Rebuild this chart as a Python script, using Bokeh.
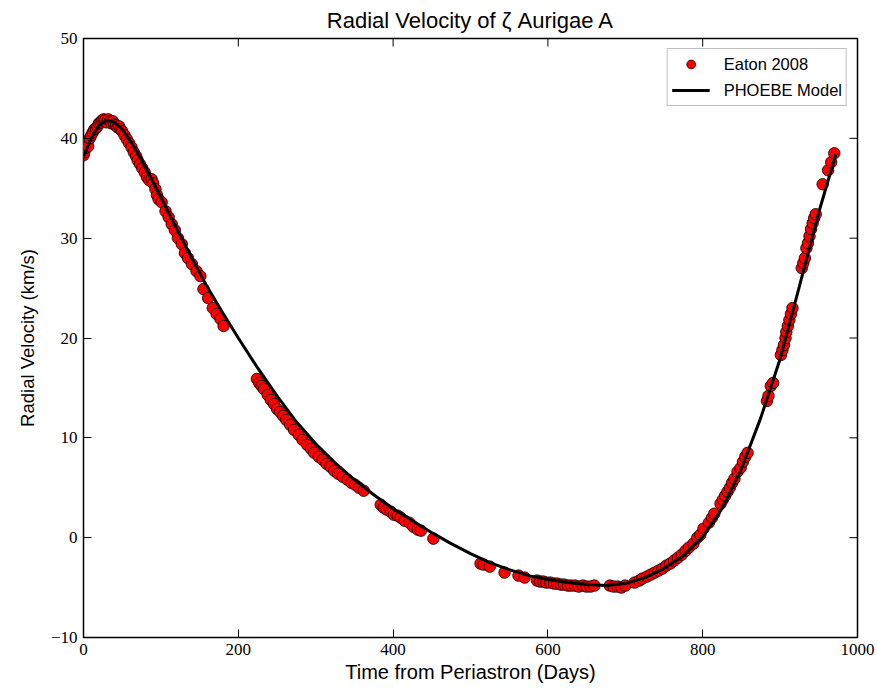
from bokeh.plotting import figure
from bokeh.models import (Range1d, Legend, LegendItem, FixedTicker,
                          CustomJSTickFormatter, ColumnDataSource)
from bokeh.embed import file_html
from bokeh.resources import INLINE

obs_day = [0, 1, 2, 3, 5, 6, 8, 10, 12, 14, 16, 18, 20, 22, 24, 26, 28, 30, 32, 34,
           36, 38, 40, 42, 44, 46, 48, 50, 53, 56, 59, 62, 65, 68, 70, 73, 76, 79, 82, 85,
           88, 90, 93, 95, 97, 101, 106, 110, 114, 118, 122, 127, 131, 135, 140, 146, 151,
           155, 161, 167, 172, 177, 181,
           224, 227, 230, 233, 238, 242, 246, 250, 254, 258, 262, 267, 272, 278, 283, 289,
           294, 298, 304, 309, 314, 319, 324, 329, 335, 341, 346, 351, 356, 362,
           384, 388, 392, 397, 401, 406, 410, 415, 421, 426, 432, 436, 452,
           513, 517, 525, 544, 562, 570,
           586, 590, 594, 598, 603, 608, 612, 617, 621, 626, 630, 635, 640, 645, 650, 655, 660,
           680, 685, 690, 695, 700, 712, 718, 722, 728, 733, 738, 743, 748, 753, 758, 763,
           768, 773, 778, 782, 788, 793, 797, 801,
           808, 812, 815, 823, 826, 829, 832, 835, 838, 841, 845, 849, 852, 855, 858,
           883, 885, 888, 891, 901, 903, 905, 907, 908, 910, 912, 914, 916,
           928, 930, 932, 934, 936, 938, 940, 942, 944, 946, 955, 962, 966, 970]
obs_rv = [38.3, 38.6, 39.0, 39.4, 39.7, 39.2, 40.0, 40.3, 40.6, 40.9, 41.0, 41.2, 41.5, 41.6,
          41.8, 41.9, 41.8, 41.6, 41.9, 41.7, 41.5, 41.7, 41.4, 41.3, 41.1, 41.2, 40.9, 40.7,
          40.3, 39.9, 39.5, 39.1, 38.6, 38.2, 37.8, 37.4, 37.0, 36.6, 36.1, 35.8, 35.9, 35.5,
          34.9, 34.3, 33.9, 33.6, 32.7, 32.1, 31.4, 30.8, 30.0, 29.4, 28.5, 28.0, 27.4, 26.7,
          26.2, 24.9, 24.0, 23.0, 22.4, 21.9, 21.2,
          15.9, 15.5, 15.2, 14.9, 14.3, 13.8, 13.4, 12.9, 12.6, 12.2, 11.8, 11.3, 10.8, 10.3,
          9.8, 9.3, 8.9, 8.5, 8.1, 7.8, 7.4, 7.1, 6.7, 6.4, 6.1, 5.8, 5.5, 5.3, 5.0, 4.7,
          3.3, 3.0, 2.8, 2.6, 2.3, 2.2, 2.0, 1.7, 1.5, 1.1, 0.8, 0.7, -0.1,
          -2.6, -2.7, -2.9, -3.5, -3.8, -4.0,
          -4.3, -4.4, -4.4, -4.5, -4.5, -4.6, -4.6, -4.7, -4.7, -4.8, -4.8, -4.8, -4.9, -4.8,
          -4.9, -4.9, -4.8,
          -4.8, -4.9, -4.9, -5.0, -4.8, -4.5, -4.3, -4.1, -3.9, -3.7, -3.5, -3.3, -3.1, -2.8,
          -2.6, -2.3, -2.0, -1.7, -1.3, -1.0, -0.6, 0.0, 0.3, 0.9,
          1.5, 2.0, 2.4, 3.4, 3.8, 4.2, 4.6, 5.0, 5.5, 5.9, 6.6, 7.0, 7.6, 8.1, 8.5,
          13.7, 14.2, 15.2, 15.5, 18.3, 18.8, 19.3, 20.0, 20.6, 21.2, 21.8, 22.4, 23.0,
          27.0, 27.5, 28.0, 29.0, 29.5, 30.2, 30.9, 31.5, 32.0, 32.4, 35.4, 36.8, 37.6, 38.5]

# ---- PHOEBE model curve ----
model_day = [0, 10, 20, 30, 40, 50, 60, 70, 80, 90, 100, 120, 140, 160, 180, 200, 225,
             250, 275, 300, 325, 350, 375, 400, 425, 450, 475, 500, 525, 550, 575, 600,
             625, 650, 675, 700, 725, 750, 775, 800, 825, 850, 875, 900, 925, 950, 972]
model_rv = [38.2, 40.0, 41.3, 41.8, 41.6, 40.9, 39.8, 38.5, 37.1, 35.6, 34.1, 31.0, 28.0,
            25.1, 22.5, 20.0, 17.0, 14.2, 11.6, 9.4, 7.5, 5.8, 4.3, 2.9, 1.7, 0.5, -0.6,
            -1.6, -2.5, -3.2, -3.8, -4.2, -4.5, -4.7, -4.8, -4.6, -4.0, -3.1, -1.8, 0.1,
            2.9, 6.9, 12.0, 17.9, 25.2, 32.6, 38.4]

title_text = "Radial Velocity of \u03b6 Aurigae A"
x_label = "Time from Periastron (Days)"
y_label = "Radial Velocity (km/s)"
x_ticks = [0, 200, 400, 600, 800, 1000]
y_ticks = [-10, 0, 10, 20, 30, 40, 50]
x_lim = (0, 1000)
y_lim = (-10, 50)

SANS = "Liberation Sans"
SERIF = "Liberation Serif"
FW, FH = 774, 599
TICK = 8

p = figure(frame_width=FW, frame_height=FH,
           x_range=Range1d(*x_lim), y_range=Range1d(*y_lim),
           output_backend="svg", toolbar_location=None,
           min_border_left=83, min_border_right=20, min_border_top=37, min_border_bottom=54,
           background_fill_color="white", border_fill_color="white")

p.title.text = title_text
p.title.align = "center"
p.title.text_font = SANS
p.title.text_font_size = "22px"
p.title.text_font_style = "normal"
p.title.text_color = "black"
p.title.standoff = 11

p.xgrid.visible = False
p.ygrid.visible = False
p.outline_line_color = "black"
p.outline_line_width = 1.5

fmt = CustomJSTickFormatter(code="return tick < 0 ? '\\u2212' + Math.abs(tick) : String(tick);")

for ax, ticks in ((p.xaxis[0], x_ticks), (p.yaxis[0], y_ticks)):
    ax.ticker = FixedTicker(ticks=ticks)
    ax.major_tick_in = TICK
    ax.major_tick_out = 0
    ax.minor_tick_line_color = None
    ax.axis_line_color = None
    ax.major_tick_line_color = "black"
    ax.formatter = fmt
    ax.major_label_text_font = SERIF
    ax.major_label_text_font_size = "17px"
    ax.major_label_text_color = "black"
    ax.major_label_standoff = 6
    ax.axis_label_text_font = SANS
    ax.axis_label_text_font_style = "normal"
    ax.axis_label_text_color = "black"

p.xaxis[0].axis_label = x_label
p.yaxis[0].axis_label = y_label
p.xaxis[0].axis_label_text_font_size = "20px"
p.yaxis[0].axis_label_text_font_size = "18.5px"
p.xaxis[0].axis_label_standoff = 3
p.yaxis[0].axis_label_standoff = 10

# inward tick marks on the top and right edges (mirroring the bottom/left ticks)
dx = TICK * (x_lim[1] - x_lim[0]) / FW
dy = TICK * (y_lim[1] - y_lim[0]) / FH
p.segment(x0=x_ticks, y0=[y_lim[1]] * len(x_ticks), x1=x_ticks,
          y1=[y_lim[1] - dy] * len(x_ticks), line_color="black", line_width=1)
p.segment(x0=[x_lim[1]] * len(y_ticks), y0=y_ticks, x1=[x_lim[1] - dx] * len(y_ticks),
          y1=y_ticks, line_color="black", line_width=1)

obs_src = ColumnDataSource(dict(x=obs_day, y=obs_rv))
model_src = ColumnDataSource(dict(x=model_day, y=model_rv))

sc = p.scatter("x", "y", source=obs_src, size=11.5, fill_color="red",
               line_color="black", line_width=0.8, marker="circle")
ln = p.line("x", "y", source=model_src, line_color="black", line_width=3)

legend = Legend(items=[LegendItem(label="Eaton 2008", renderers=[sc]),
                       LegendItem(label="PHOEBE Model", renderers=[ln])],
                location="top_right")
legend.label_text_font = SANS
legend.label_text_font_size = "16.5px"
legend.label_text_color = "black"
legend.border_line_color = "#808080"
legend.border_line_width = 1.5
legend.glyph_width = 38
legend.glyph_height = 22
legend.label_standoff = 14
legend.spacing = 4
legend.padding = 4
legend.margin = 10
legend.background_fill_alpha = 1.0
p.add_layout(legend)

open("out.html", "w").write(file_html(p, INLINE))
